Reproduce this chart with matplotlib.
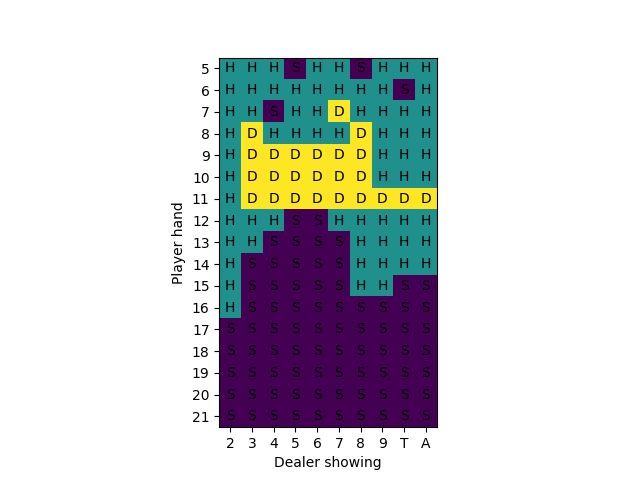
import numpy as np
import matplotlib
matplotlib.use("Agg")
import matplotlib.pyplot as plt

# Basic strategy table: S = stand, H = hit, D = double
dealer_cards = ["2", "3", "4", "5", "6", "7", "8", "9", "T", "A"]
player_hands = list(range(5, 22))
strategy_rows = [
    "HHHSHHSHHH",  # 5
    "HHHHHHHHSH",  # 6
    "HHSHHDHHHH",  # 7
    "HDHHHHDHHH",  # 8
    "HDDDDDDHHH",  # 9
    "HDDDDDDHHH",  # 10
    "HDDDDDDDDD",  # 11
    "HHHSSHHHHH",  # 12
    "HHSSSSHHHH",  # 13
    "HSSSSSHHHH",  # 14
    "HSSSSSHHSS",  # 15
    "HSSSSSSSSS",  # 16
    "SSSSSSSSSS",  # 17
    "SSSSSSSSSS",  # 18
    "SSSSSSSSSS",  # 19
    "SSSSSSSSSS",  # 20
    "SSSSSSSSSS",  # 21
]

action_code = {"S": 0, "H": 1, "D": 2}
grid = np.array([[action_code[c] for c in row] for row in strategy_rows])

fig, ax = plt.subplots(figsize=(6.4, 4.8), dpi=100)
ax.imshow(grid, cmap="viridis", vmin=0, vmax=2)

for i, row in enumerate(strategy_rows):
    for j, c in enumerate(row):
        ax.text(j, i, c, ha="center", va="center", color="black")

ax.set_xticks(range(len(dealer_cards)))
ax.set_xticklabels(dealer_cards)
ax.set_yticks(range(len(player_hands)))
ax.set_yticklabels(player_hands)
ax.set_xlabel("Dealer showing")
ax.set_ylabel("Player hand")

fig.savefig("out.png")
